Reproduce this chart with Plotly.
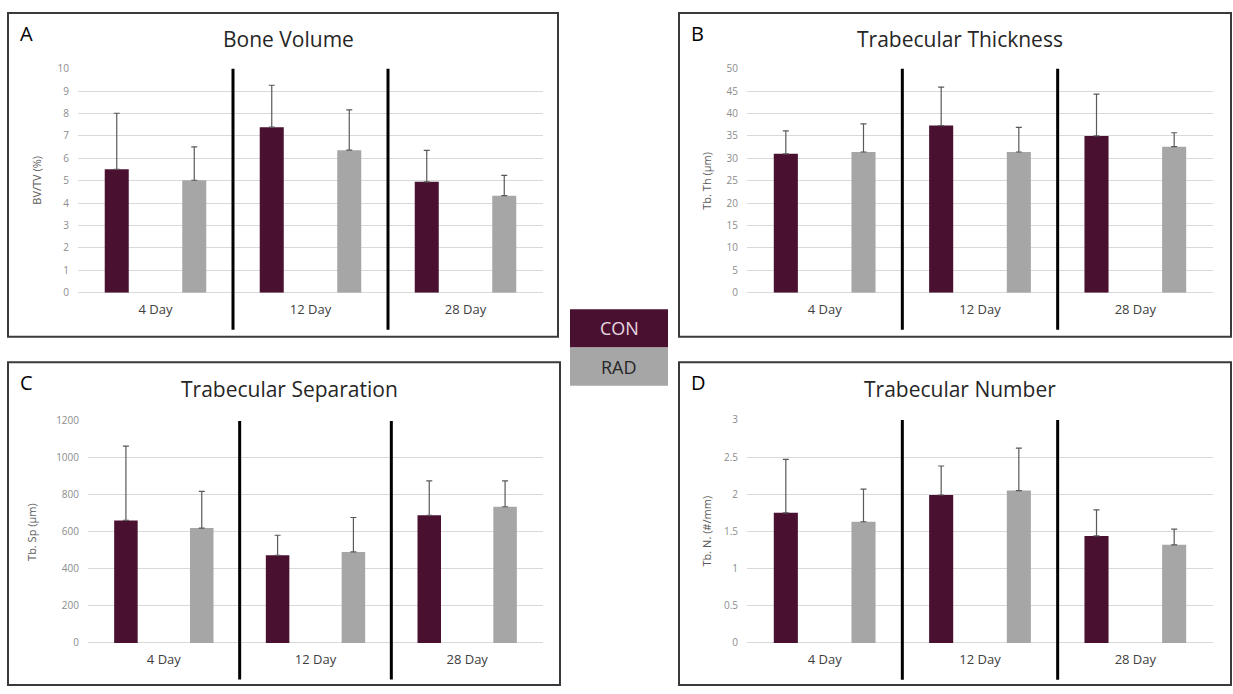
import plotly.graph_objects as go

W, H = 1233, 694

days = ["4 Day", "12 Day", "28 Day"]
groups = ["CON", "RAD"]

bv_con = [5.51, 7.39, 4.95]
bv_con_sd = [2.50, 1.87, 1.40]
bv_rad = [5.02, 6.36, 4.33]
bv_rad_sd = [1.49, 1.80, 0.91]

th_con = [31.0, 37.3, 35.0]
th_con_sd = [5.1, 8.6, 9.3]
th_rad = [31.4, 31.4, 32.6]
th_rad_sd = [6.3, 5.5, 3.1]

sp_con = [662, 474, 690]
sp_con_sd = [402, 108, 186]
sp_rad = [621, 492, 736]
sp_rad_sd = [198, 186, 140]

n_con = [1.75, 1.99, 1.44]
n_con_sd = [0.72, 0.39, 0.35]
n_rad = [1.63, 2.05, 1.32]
n_rad_sd = [0.44, 0.57, 0.21]

titles = ["Bone Volume", "Trabecular Thickness", "Trabecular Separation", "Trabecular Number"]
letters = ["A", "B", "C", "D"]
ytitles = ["BV/TV (%)", "Tb. Th (µm)", "Tb. Sp (µm)", "Tb. N. (#/mm)"]
yranges = [[0, 10], [0, 50], [0, 1200], [0, 3]]
ydticks = [1, 5, 200, 0.5]

panels = [
    (bv_con, bv_con_sd, bv_rad, bv_rad_sd),
    (th_con, th_con_sd, th_rad, th_rad_sd),
    (sp_con, sp_con_sd, sp_rad, sp_rad_sd),
    (n_con, n_con_sd, n_rad, n_rad_sd),
]

CON_C = "#4a1030"
RAD_C = "#a6a6a6"
FONT = "Open Sans"

def px(x):
    return x / W

def py(y):
    return 1 - y / H

# plot areas (pixel boxes: left, right, top, bottom)
areas = [
    (78, 543, 62, 291),
    (747, 1213, 62, 291),
    (88, 543, 422, 649),
    (747, 1213, 421, 649),
]
# panel borders
borders = [
    (8, 558, 5, 336),
    (679, 1231, 5, 336),
    (8, 560, 362, 692),
    (679, 1231, 362, 692),
]
ytitle_x = [37, 707, 32, 706]

fig = go.Figure()
layout = dict(
    width=W, height=H, margin=dict(l=0, r=0, t=0, b=0),
    paper_bgcolor="white", plot_bgcolor="white", showlegend=False,
    font=dict(family=FONT), shapes=[], annotations=[],
)

for i, (con, con_sd, rad, rad_sd) in enumerate(panels):
    k = "" if i == 0 else str(i + 1)
    xa, ya = "x" + k, "y" + k
    fig.add_trace(go.Bar(
        x=days, y=con, name="CON", xaxis=xa, yaxis=ya,
        marker=dict(color=CON_C, line=dict(width=0)),
        width=0.155, offset=-0.25 - 0.0775,
        error_y=dict(type="data", symmetric=False, array=con_sd,
                     arrayminus=[0] * len(con), color="#595959", thickness=1.2, width=3),
    ))
    fig.add_trace(go.Bar(
        x=days, y=rad, name="RAD", xaxis=xa, yaxis=ya,
        marker=dict(color=RAD_C, line=dict(width=0)),
        width=0.155, offset=0.25 - 0.0775,
        error_y=dict(type="data", symmetric=False, array=rad_sd,
                     arrayminus=[0] * len(rad), color="#595959", thickness=1.2, width=3),
    ))
    l, r, t, b = areas[i]
    layout["xaxis" + k] = dict(
        domain=[px(l), px(r)], anchor=ya, type="category",
        categoryorder="array", categoryarray=days, range=[-0.5, 2.5],
        showgrid=False, showline=False, zeroline=False, ticks="",
        ticklabelstandoff=7,
        tickfont=dict(size=13, color="#404040", family=FONT),
    )
    layout["yaxis" + k] = dict(
        domain=[py(b), py(t)], anchor=xa, range=yranges[i], dtick=ydticks[i],
        showgrid=True, gridcolor="#d9d9d9", gridwidth=1,
        zeroline=True, zerolinecolor="#d9d9d9", zerolinewidth=1,
        showline=False, ticks="", ticklabelstandoff=8,
        tickfont=dict(size=10, color="#8c8c8c", family=FONT),
    )
    # separators between day groups
    for xs in [1 / 3, 2 / 3]:
        layout["shapes"].append(dict(
            type="line", xref=xa + " domain", yref=ya + " domain",
            x0=xs, x1=xs, y0=-0.165, y1=1.0,
            line=dict(color="black", width=3),
        ))
    # panel border
    bl, br, bt, bb = borders[i]
    layout["shapes"].append(dict(
        type="rect", xref="paper", yref="paper",
        x0=px(bl), x1=px(br), y0=py(bb), y1=py(bt),
        line=dict(color="#3a3a3a", width=2), fillcolor="rgba(0,0,0,0)",
    ))
    # title
    layout["annotations"].append(dict(
        text=titles[i], xref="paper", yref="paper",
        x=px((bl + br) / 2 + 5), y=py(bt + 27), xanchor="center", yanchor="middle",
        showarrow=False, font=dict(size=21, color="#262626", family=FONT),
    ))
    # panel letter
    layout["annotations"].append(dict(
        text=letters[i], xref="paper", yref="paper",
        x=px(bl + 10), y=py(bt + 21), xanchor="left", yanchor="middle",
        showarrow=False, font=dict(size=20, color="black", family=FONT),
    ))
    # y axis title
    layout["annotations"].append(dict(
        text=ytitles[i], xref="paper", yref="paper",
        x=px(ytitle_x[i]), y=py((t + b) / 2), xanchor="center", yanchor="middle",
        textangle=-90, showarrow=False,
        font=dict(size=11, color="#595959", family=FONT),
    ))

# legend box
leg = [("CON", CON_C, "#e8d8e0", 308, 347), ("RAD", RAD_C, "#262626", 347, 386)]
for name, fill, tc, y0, y1 in leg:
    layout["shapes"].append(dict(
        type="rect", xref="paper", yref="paper",
        x0=px(570), x1=px(668), y0=py(y1), y1=py(y0),
        line=dict(width=0), fillcolor=fill,
    ))
    layout["annotations"].append(dict(
        text=name, xref="paper", yref="paper",
        x=px(619), y=py((y0 + y1) / 2), xanchor="center", yanchor="middle",
        showarrow=False, font=dict(size=18, color=tc, family=FONT),
    ))

fig.update_layout(**layout)
fig.write_html("out.html")
